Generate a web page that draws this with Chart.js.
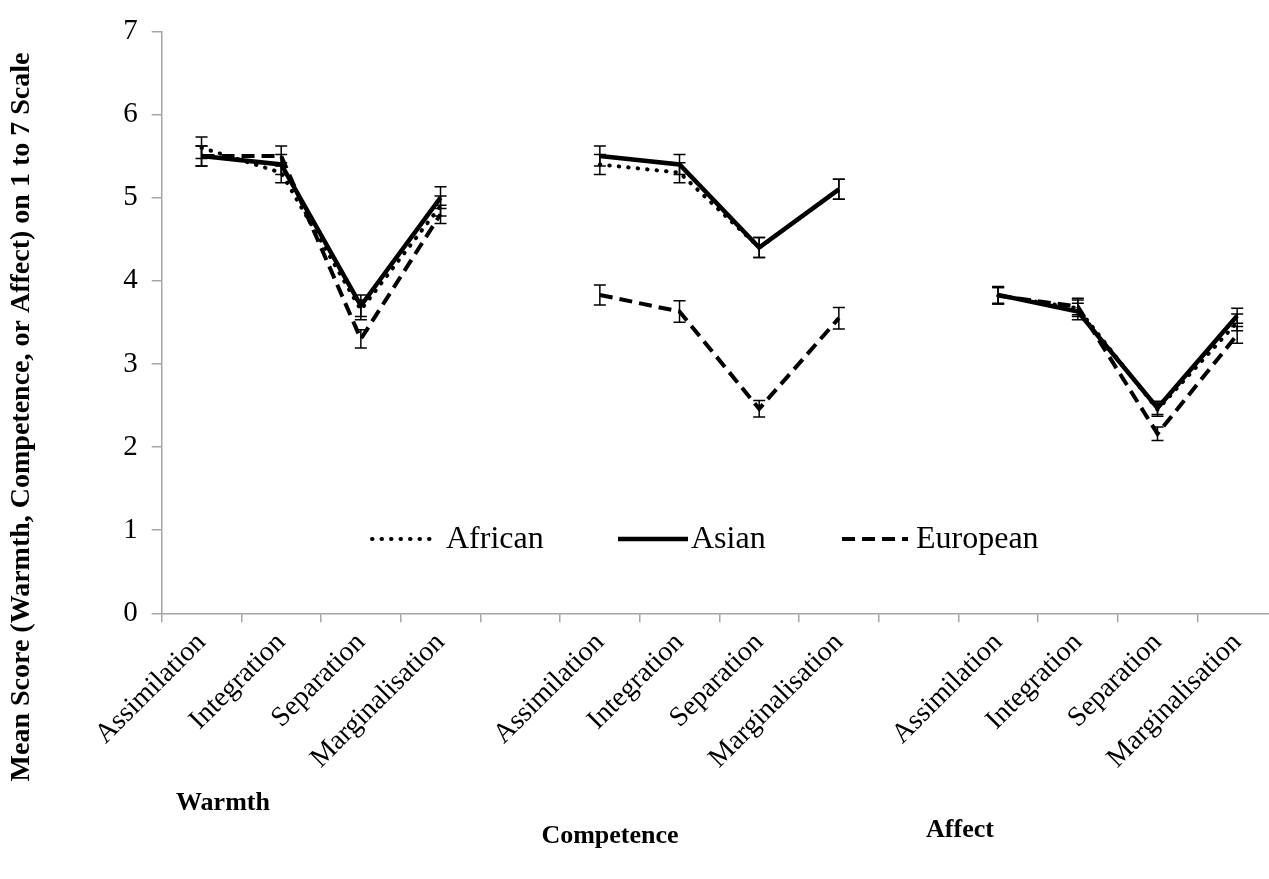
<!DOCTYPE html>
<html>
<head>
<meta charset="utf-8">
<script src="https://cdn.jsdelivr.net/npm/chart.js@4.4.1/dist/chart.umd.min.js"></script>
<style>
  html, body { margin: 0; padding: 0; background: #fff; overflow: hidden; }
  #wrap { position: relative; width: 1277px; height: 879px; }
</style>
</head>
<body>
<div id="wrap"><canvas id="c"></canvas></div>
<script>
const categories = ['Assimilation','Integration','Separation','Marginalisation','',
                    'Assimilation','Integration','Separation','Marginalisation','',
                    'Assimilation','Integration','Separation','Marginalisation'];
const groupLabels = ['Warmth','Competence','Affect'];
const yTicks = [0,1,2,3,4,5,6,7];

const african  = [5.6, 5.3, 3.65, 4.9, null, 5.4, 5.3, 4.4, 5.1, null, 3.82, 3.67, 2.45, 3.5];
const asian    = [5.5, 5.4, 3.7, 5.0, null, 5.5, 5.4, 4.4, 5.1, null, 3.83, 3.63, 2.47, 3.58];
const european = [5.5, 5.5, 3.3, 4.8, null, 3.83, 3.63, 2.46, 3.55, null, 3.82, 3.69, 2.16, 3.35];

const africanErr  = [0.13, 0.12, 0.12, 0.12, null, 0.12, 0.12, 0.12, 0.12, null, 0.1, 0.1, 0.08, 0.1];
const asianErr    = [0.12, 0.12, 0.13, 0.13, null, 0.12, 0.12, 0.12, 0.12, null, 0.1, 0.1, 0.08, 0.09];
const europeanErr = [0.12, 0.12, 0.11, 0.11, null, 0.12, 0.13, 0.1, 0.13, null, 0.1, 0.1, 0.08, 0.1];

const SERIF = '"Liberation Serif", "Times New Roman", serif';

const errorBars = {
  id: 'errorBars',
  afterDatasetsDraw(chart) {
    const ctx = chart.ctx;
    const x = chart.scales.x, y = chart.scales.y;
    ctx.save();
    ctx.strokeStyle = '#000';
    ctx.lineWidth = 1.5;
    chart.data.datasets.forEach(ds => {
      ds.data.forEach((v, i) => {
        const e = ds.err[i];
        if (v == null || e == null) return;
        const px = x.getPixelForValue(i);
        const top = y.getPixelForValue(v + e);
        const bot = y.getPixelForValue(v - e);
        ctx.beginPath();
        ctx.moveTo(px, top); ctx.lineTo(px, bot);
        ctx.moveTo(px - 6, top); ctx.lineTo(px + 6, top);
        ctx.moveTo(px - 6, bot); ctx.lineTo(px + 6, bot);
        ctx.stroke();
      });
    });
    ctx.restore();
  }
};

const extras = {
  id: 'extras',
  afterDraw(chart) {
    const ctx = chart.ctx;
    ctx.save();
    ctx.fillStyle = '#000';
    // legend
    ctx.font = '32px ' + SERIF;
    ctx.textBaseline = 'middle';
    ctx.textAlign = 'left';
    const ly = 539;
    const items = [
      {ds: 0, x0: 372, x1: 432, tx: 446},
      {ds: 1, x0: 618, x1: 688, tx: 691},
      {ds: 2, x0: 842, x1: 908, tx: 916}
    ];
    items.forEach(it => {
      const ds = chart.data.datasets[it.ds];
      ctx.save();
      ctx.strokeStyle = '#000';
      ctx.lineWidth = ds.borderWidth;
      ctx.lineCap = ds.borderCapStyle || 'butt';
      ctx.setLineDash(ds.borderDash || []);
      ctx.beginPath();
      ctx.moveTo(it.x0, ly); ctx.lineTo(it.x1, ly);
      ctx.stroke();
      ctx.restore();
      ctx.fillText(ds.label, it.tx, ly + 1);
    });
    // group labels
    ctx.font = 'bold 26px ' + SERIF;
    ctx.textAlign = 'center';
    ctx.fillText(groupLabels[0], 223, 803);
    ctx.fillText(groupLabels[1], 610, 836);
    ctx.fillText(groupLabels[2], 960, 830);
    // y title
    ctx.translate(22, 417);
    ctx.rotate(-Math.PI / 2);
    ctx.font = 'bold 28px ' + SERIF;
    ctx.fillText('Mean Score (Warmth, Competence, or Affect) on 1 to 7 Scale', 0, 0);
    ctx.restore();
  }
};

new Chart(document.getElementById('c'), {
  type: 'line',
  data: {
    labels: categories,
    datasets: [
      { label: 'African', data: african, err: africanErr, borderColor: '#000', borderWidth: 4,
        borderDash: [0.5, 9], borderCapStyle: 'round', pointRadius: 0, fill: false, tension: 0, spanGaps: false },
      { label: 'Asian', data: asian, err: asianErr, borderColor: '#000', borderWidth: 4.5,
        pointRadius: 0, fill: false, tension: 0, spanGaps: false },
      { label: 'European', data: european, err: europeanErr, borderColor: '#000', borderWidth: 4,
        borderDash: [13, 7], pointRadius: 0, fill: false, tension: 0, spanGaps: false }
    ]
  },
  options: {
    responsive: true,
    maintainAspectRatio: false,
    animation: false,
    layout: { padding: { top: 25.7, left: 0, right: 0, bottom: 0 } },
    plugins: { legend: { display: false }, tooltip: { enabled: false } },
    scales: {
      x: {
        offset: true,
        afterFit(s) { s.height = 879 - 613.3; },
        grid: { offset: true, drawOnChartArea: false, tickLength: 9, color: '#a6a6a6', lineWidth: 1.5 },
        border: { color: '#a6a6a6', width: 1.5 },
        ticks: { autoSkip: false, maxRotation: 45, minRotation: 45, color: '#000', padding: 4,
                 font: { family: SERIF, size: 28 } }
      },
      y: {
        min: 0, max: 7,
        afterFit(s) { s.width = 161.7; },
        afterBuildTicks(s) { s.ticks = yTicks.map(v => ({ value: v })); },
        grid: { drawOnChartArea: false, tickLength: 10, color: '#a6a6a6', lineWidth: 1.5 },
        border: { color: '#a6a6a6', width: 1.5 },
        ticks: { color: '#000', padding: 14, font: { family: SERIF, size: 29 } }
      }
    }
  },
  plugins: [errorBars, extras]
});
</script>
</body>
</html>
